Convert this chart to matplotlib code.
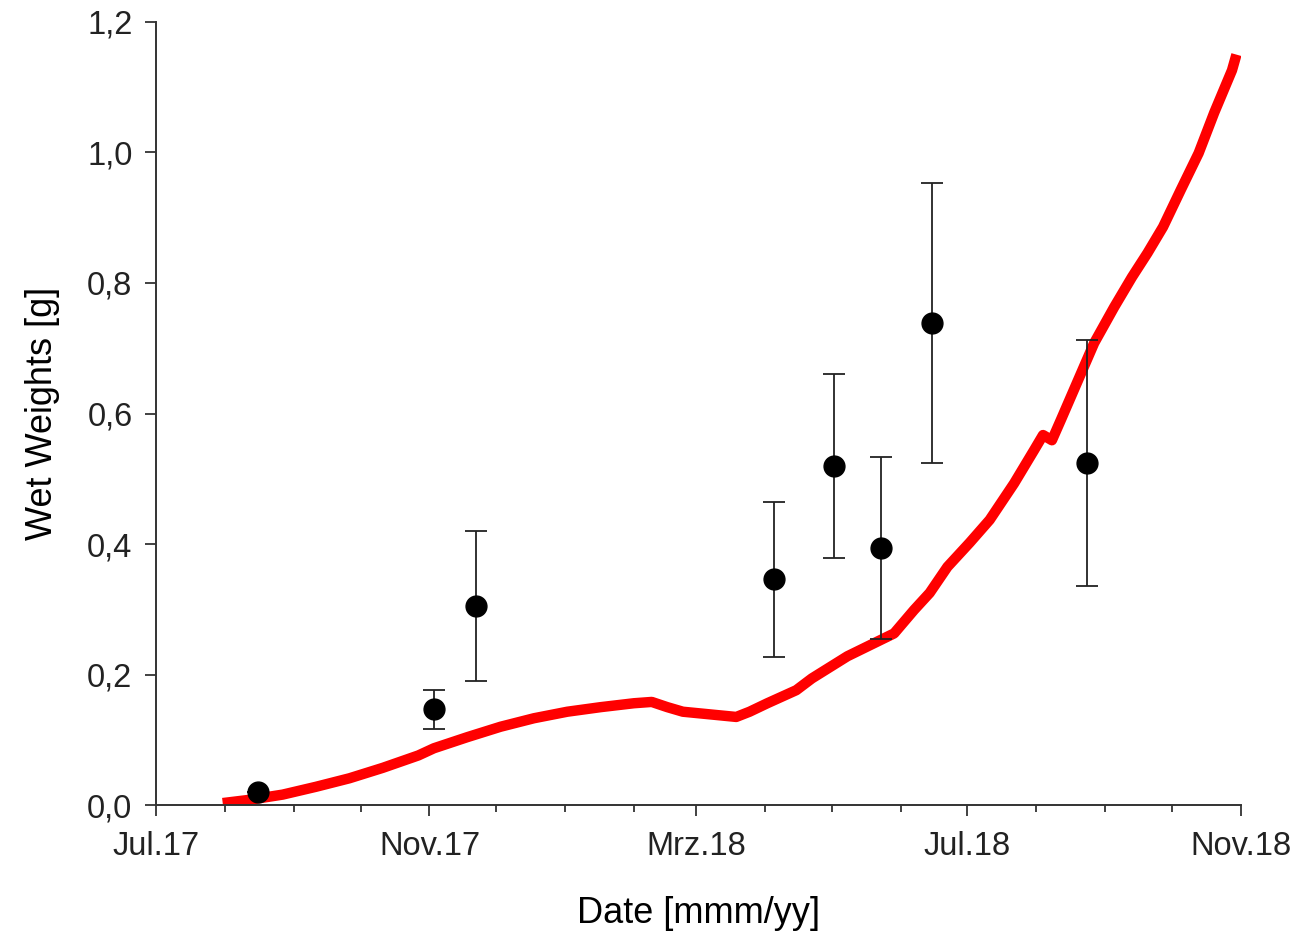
import numpy as np
import pandas as pd
import matplotlib
matplotlib.use('Agg')
import matplotlib.pyplot as plt
import matplotlib.dates as mdates
from matplotlib.ticker import FuncFormatter

plt.rcParams['font.family'] = ['Liberation Sans', 'DejaVu Sans']

# Messwerte (Mittelwert +/- Standardabweichung)
mess_datum = ['2017-08-16', '2017-11-03', '2017-11-22', '2018-04-05',
              '2018-05-02', '2018-05-23', '2018-06-15', '2018-08-24']
mess_wert = [0.020, 0.147, 0.305, 0.346, 0.520, 0.394, 0.739, 0.524]
mess_sd = [0.000, 0.030, 0.115, 0.119, 0.141, 0.139, 0.215, 0.188]

# Modellkurve
modell_datum = ['2017-07-31', '2017-08-12', '2017-08-27', '2017-09-11', '2017-09-26',
                '2017-10-11', '2017-10-27', '2017-11-03', '2017-11-18', '2017-12-03',
                '2017-12-18', '2018-01-02', '2018-01-17', '2018-02-01', '2018-02-09',
                '2018-02-16', '2018-02-23', '2018-03-10', '2018-03-19', '2018-03-25',
                '2018-04-02', '2018-04-15', '2018-04-22', '2018-05-08', '2018-05-23',
                '2018-05-29', '2018-06-07', '2018-06-14', '2018-06-22', '2018-07-02',
                '2018-07-11', '2018-07-22', '2018-07-31', '2018-08-04', '2018-08-08',
                '2018-08-12', '2018-08-27', '2018-09-05', '2018-09-13', '2018-09-20',
                '2018-09-27', '2018-10-05', '2018-10-13', '2018-10-20', '2018-10-28',
                '2018-10-30']
modell_wert = [0.003, 0.008, 0.016, 0.028, 0.041,
               0.057, 0.076, 0.087, 0.104, 0.120,
               0.133, 0.143, 0.150, 0.156, 0.158,
               0.150, 0.143, 0.138, 0.135, 0.143,
               0.156, 0.176, 0.194, 0.228, 0.253,
               0.263, 0.299, 0.325, 0.365, 0.402,
               0.437, 0.493, 0.544, 0.567, 0.559,
               0.590, 0.708, 0.763, 0.809, 0.846,
               0.886, 0.943, 0.999, 1.061, 1.126,
               1.150]

major_ticks = ['2017-07-01', '2017-11-01', '2018-03-01', '2018-07-01', '2018-11-01']
major_labels = ['Jul.17', 'Nov.17', 'Mrz.18', 'Jul.18', 'Nov.18']

fig = plt.figure(figsize=(12.98, 9.35), dpi=100)
ax = fig.add_axes([0.1202, 0.139, 0.8358, 0.8375])

ax.plot(pd.to_datetime(modell_datum), modell_wert, color='#ff0000', linewidth=7.5,
        solid_capstyle='butt', solid_joinstyle='round', zorder=2)
ax.errorbar(pd.to_datetime(mess_datum), mess_wert, yerr=mess_sd, fmt='o', color='black',
            markersize=15, ecolor='#222222', elinewidth=1.3, capsize=8, capthick=1.3,
            zorder=3)

ax.set_xlim(pd.Timestamp('2017-07-01'), pd.Timestamp('2018-11-01'))
ax.set_ylim(0, 1.2)

ax.set_xticks(pd.to_datetime(major_ticks))
ax.set_xticklabels(major_labels)
ax.xaxis.set_minor_locator(mdates.MonthLocator())
ax.set_yticks(np.arange(0, 1.21, 0.2))
ax.yaxis.set_major_formatter(FuncFormatter(lambda v, p: f'{v:.1f}'.replace('.', ',')))

for s in ['top', 'right']:
    ax.spines[s].set_visible(False)
for s in ['left', 'bottom']:
    ax.spines[s].set_linewidth(1.4)
    ax.spines[s].set_color('#333333')

ax.tick_params(axis='both', which='major', length=8, width=1.3, color='#333333',
               labelsize=23.5, labelcolor='#222222')
ax.tick_params(axis='x', which='major', pad=11)
ax.tick_params(axis='y', which='major', pad=9)
ax.tick_params(axis='x', which='minor', length=5, width=1.3, color='#333333')

ax.set_xlabel('Date [mmm/yy]', fontsize=26, va='center')
ax.set_ylabel('Wet Weights [g]', fontsize=26, va='center')
ax.xaxis.set_label_coords(0.5, -0.138)
ax.yaxis.set_label_coords(-0.105, 0.5)

fig.savefig('out.png', dpi=100)
